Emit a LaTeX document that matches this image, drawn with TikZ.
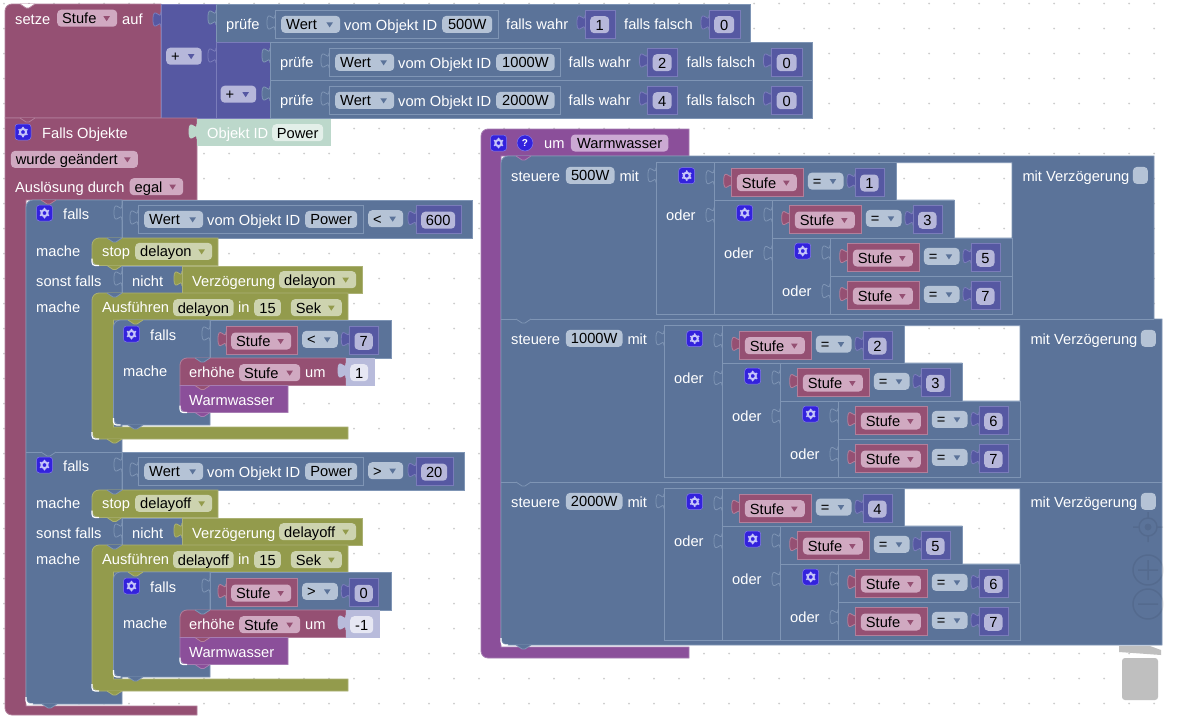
\documentclass[tikz,border=0pt]{standalone}
\usepackage{fontspec}
\setmainfont{Liberation Sans}
\usepackage{xcolor}

\definecolor{magfill}{HTML}{955073}
\definecolor{magedge}{HTML}{B27F9B}
\definecolor{magfield}{HTML}{D0A9C1}
\definecolor{bluefill}{HTML}{5B7399}
\definecolor{blueedge}{HTML}{7F95B5}
\definecolor{bluefield}{HTML}{B5C3D6}
\definecolor{numfill}{HTML}{5658A2}
\definecolor{numedge}{HTML}{7A7CBA}
\definecolor{numfield}{HTML}{B6B7DA}
\definecolor{olivefill}{HTML}{939B4C}
\definecolor{oliveedge}{HTML}{ABB174}
\definecolor{olivefield}{HTML}{CDD3AF}
\definecolor{purfill}{HTML}{8B4F9A}
\definecolor{puredge}{HTML}{A77DB3}
\definecolor{purfield}{HTML}{CBA9D3}
\definecolor{greenfill}{HTML}{BCD8CB}
\definecolor{greenfield}{HTML}{E3EFE9}
\definecolor{litefill}{HTML}{B8BBDB}
\definecolor{litefield}{HTML}{E6E7F3}
\definecolor{gearfill}{HTML}{3322DD}
\definecolor{gearfront}{HTML}{C5C5FA}

\newcommand{\blockfont}{\fontsize{14.67}{16}\selectfont}

\tikzset{
  lbl/.style={font=\blockfont, text=white, anchor=base west, inner sep=0pt},
  fieldbox/.style={font=\blockfont, text=black, anchor=north west, rounded corners=4pt,
    minimum height=17pt, inner xsep=0pt, inner ysep=0pt, text height=12.5pt, text depth=1.5pt},
  gearbox/.style={fill=gearfill, draw=gearfill!60!white, line width=0.5pt, rounded corners=3pt,
    minimum size=16pt, inner sep=0pt},
  checkbox/.style={fill=bluefield, anchor=north west, rounded corners=4pt,
    minimum width=15pt, minimum height=17pt, inner sep=0pt},
  magblock/.style={fill=magfill, draw=magedge, line width=0.8pt},
  blueblock/.style={fill=bluefill, draw=blueedge, line width=0.8pt},
  numblock/.style={fill=numfill, draw=numedge, line width=0.8pt},
  oliveblock/.style={fill=olivefill, draw=oliveedge, line width=0.8pt},
  purblock/.style={fill=purfill, draw=puredge, line width=0.8pt},
  greenblock/.style={fill=greenfill, draw=greenfill, line width=0.8pt},
  liteblock/.style={fill=litefill, draw=litefill, line width=0.8pt},
  ghost/.style={draw=black, opacity=0.07, line width=1.5pt},
}

\newcommand{\mktext}[4]{\node[lbl] (#1) at (#2,#3) {#4};}
\newcommand{\mkfield}[6]{\node[fieldbox, fill=#5, minimum width=#4pt] (#1) at (#2,#3) {#6};}
\newcommand{\mkdrop}[7]{%
  \node[fieldbox, fill=#5, inner xsep=5pt] (#1) at (#2,#3) {\makebox[\dimexpr#4pt-10pt\relax][l]{#7}};
  \fill[#6] ([shift={(-14,-2)}]#1.east) -- ++(6.5,0) -- ++(-3.25,5) -- cycle;
}
\newcommand{\mkgear}[3]{%
  \node[gearbox] (#1) at (#2,#3) {};
  \draw[gearfront, line width=2pt] (#1.center) circle (3.1);
  \foreach \ang in {30,90,...,330}
    \fill[gearfront] ([shift={(\ang:4.4)}]#1.center) circle (1.1);
}
\newcommand{\mktab}[3]{%
  \filldraw[#3] (#1,#2) .. controls (#1,#2+10) and (#1-8,#2-8) .. (#1-8,#2+7.5)
    .. controls (#1-8,#2+23) and (#1,#2+5) .. (#1,#2+15);
}
\newcommand{\mknub}[3]{\filldraw[#3] (#1,#2) -- (#1+6,#2+4) -- (#1+9,#2+4) -- (#1+15,#2);}
\newcommand{\glint}[2]{\draw[white, line width=1.2pt] (#1,#2-7) .. controls (#1,#2) .. (#1+7,#2);}
\newcommand{\leftround}[5]{\draw[#1] (#4,#3) [rounded corners=7pt] -- (#2,#3) -- (#2,#5) [sharp corners] -- (#4,#5) -- cycle;}

\newcommand{\numbox}[5]{%
  \mktab{#2}{#3+5}{numblock}
  \draw[numblock] (#2,#3) rectangle (#2+#5+11,#3+28);
  \mkfield{#1}{#2+5}{#3+6}{#5}{numfield}{#4}
}
\newcommand{\wertrow}[5]{%
  \mktab{#2}{#3+5}{blueblock}
  \draw[blueblock] (#2,#3) rectangle (#2+173+#5,#3+28);
  \mkdrop{#1-w}{#2+6}{#3+5.7}{59}{bluefield}{bluefill}{Wert}
  \mktext{#1-o}{#2+69}{#3+20}{vom Objekt ID}
  \mkfield{#1-i}{#2+167}{#3+5.7}{#5}{bluefield}{#4}
}
\newcommand{\pruefe}[7]{%
  \pgfmathsetmacro{\aft}{#2+225+#5}
  \draw[blueblock] (#2,#3) rectangle (\aft+259,#3+37.7);
  \mktext{#1-t}{#2+10}{#3+24.5}{prüfe}
  \wertrow{#1-v}{#2+59}{#3+5.5}{#4}{#5}
  \mktext{#1-a}{\aft+15}{#3+24.5}{falls wahr}
  \numbox{#1-b}{\aft+94}{#3+5.5}{#6}{19}
  \mktext{#1-c}{\aft+133}{#3+24.5}{falls falsch}
  \numbox{#1-d}{\aft+218}{#3+5.5}{#7}{20}
}
\newcommand{\cmprow}[5]{%
  \mktab{#2+17.7}{#3+10.6}{magblock}
  \draw[magblock] (#2+17.7,#3+5.6) rectangle (#2+89.3,#3+33.3);
  \mkdrop{#1-s}{#2+22.7}{#3+11.3}{60}{magfield}{magfill}{Stufe}
  \mkdrop{#1-o}{#2+93.7}{#3+9.7}{35.6}{bluefield}{bluefill}{#4}
  \numbox{#1-n}{#2+141}{#3+5.6}{#5}{18.3}
}
\newcommand{\oderbox}[5]{%
  \draw[blueblock] (#2,#3) rectangle (#2+58,#5);
  \mkgear{#1-g}{#2+30.7}{#3+13}
  \mktab{#2+58}{#3+7}{blueblock}
  \mktext{#1-t}{#2+10}{#4+20}{oder}
  \mktab{#2+58}{#4+7.5}{blueblock}
}
\newcommand{\steuere}[9]{%
  \mktext{#1-t}{511}{#2+25.5}{steuere}
  \mkfield{#1-w}{565.7}{#2+10.7}{#5}{bluefield}{#4}
  \mktext{#1-m}{565.7+#5+5}{#2+25.5}{mit}
  \mktab{656+#3}{#2+11.7}{blueblock}
  \oderbox{#1-a}{656+#3}{#2+6.7}{#2+44}{#2+158.3}
  \draw[blueblock] (714+#3,#2+6.7) rectangle (896+#3,#2+44);
  \cmprow{#1-ra}{714+#3}{#2+6.7}{=}{#6}
  \oderbox{#1-b}{714+#3}{#2+44}{#2+82}{#2+158.3}
  \draw[blueblock] (772+#3,#2+44) rectangle (954+#3,#2+82);
  \cmprow{#1-rb}{772+#3}{#2+44}{=}{#7}
  \oderbox{#1-c}{772+#3}{#2+82}{#2+120}{#2+158.3}
  \draw[blueblock] (830+#3,#2+82) rectangle (1012+#3,#2+120);
  \cmprow{#1-rc}{830+#3}{#2+82}{=}{#8}
  \draw[blueblock] (830+#3,#2+120) rectangle (1012+#3,#2+158.3);
  \cmprow{#1-rd}{830+#3}{#2+120}{=}{#9}
  \mktext{#1-v}{1022.3+#3}{#2+25.5}{mit Verzögerung}
  \node[checkbox] (#1-x) at (1132.7+#3,#2+10.7) {};
}
\newcommand{\holepath}[2]{(896+#1,#2+6.7) -- (1012+#1,#2+6.7) -- (1012+#1,#2+82) -- (954+#1,#2+82)
  -- (954+#1,#2+44) -- (896+#1,#2+44) -- cycle}
\newcommand{\fallsgroup}[8]{%
  \draw[blueblock] (122,200) rectangle (#4+438,238);
  \mkgear{#1-g}{44.5}{213}
  \mktext{#1-f}{63}{219}{falls}
  \mktab{122}{205}{blueblock}
  \wertrow{#1-v}{138}{205}{Power}{52}
  \mkdrop{#1-op}{368}{210}{35}{bluefield}{bluefill}{#2}
  \numbox{#1-num}{416}{205.5}{#3}{#4}
  \mktext{#1-m}{36}{256}{mache}
  \leftround{oliveblock}{92}{238}{218}{265.5}
  \mknub{107}{238}{blueblock}
  \mknub{107}{265.5}{oliveblock}
  \glint{92}{265.5}
  \mktext{#1-s}{102}{256.5}{stop}
  \mkdrop{#1-sd}{135}{242.7}{77}{olivefield}{olivefill}{#1}
  \mktext{#1-e}{36}{286}{sonst falls}
  \mktab{122}{271}{blueblock}
  \draw[blueblock] (122,266) rectangle (182,293);
  \mktext{#1-n}{132}{286}{nicht}
  \mktab{182}{271}{oliveblock}
  \draw[oliveblock] (182,266) rectangle (362,293);
  \mktext{#1-z}{192}{286}{Verzögerung}
  \mkdrop{#1-zd}{279}{271}{77}{olivefield}{olivefill}{#1}
  \mktext{#1-k}{36}{312}{mache}
  \draw[oliveblock] (348,293) [rounded corners=7pt] -- (92,293) -- (92,439) [sharp corners] -- (348,439)
    -- (348,427) -- (113.5,427) -- (113.5,320) -- (348,320) -- cycle;
  \mknub{107}{293}{blueblock}
  \mknub{107}{439}{oliveblock}
  \glint{92}{439}
  \mktext{#1-a}{102}{312.5}{Ausführen}
  \mkfield{#1-ad}{173}{299}{60.5}{olivefield}{#1}
  \mktext{#1-i}{238}{312.5}{in}
  \mkfield{#1-t}{254}{299}{26.7}{olivefield}{15}
  \mkdrop{#1-u}{290.7}{299}{51}{olivefield}{olivefill}{Sek}
  \leftround{blueblock}{113.5}{320}{210}{425}
  \mknub{128}{320}{oliveblock}
  \mknub{128}{425}{blueblock}
  \glint{113.5}{425}
  \mkgear{#1-h}{131.5}{334}
  \mktext{#1-j}{150}{340}{falls}
  \draw[blueblock] (210,320) rectangle (391,358.5);
  \mktab{210}{326}{blueblock}
  \cmprow{#1-c}{208.3}{321}{#5}{#6}
  \mktext{#1-l}{123}{376.7}{mache}
  \draw[magblock] (346,358) [rounded corners=7pt] -- (180,358) [sharp corners] -- (180,385.5) -- (346,385.5) -- cycle;
  \mknub{195}{358}{blueblock}
  \mktext{#1-q}{189}{377.5}{erhöhe}
  \mkdrop{#1-qd}{239}{364}{61}{magfield}{magfill}{Stufe}
  \mktext{#1-r}{305}{377.5}{um}
  \draw[liteblock] (346,358) rectangle (356+#8,385.5);
  \mktab{346}{363}{liteblock}
  \mkfield{#1-qv}{350}{364}{#8}{litefield}{#7}
  \draw[purblock] (288,385.5) -- (180,385.5) [rounded corners=7pt] -- (180,412.5) [sharp corners] -- (288,412.5) -- cycle;
  \mknub{195}{385.5}{magblock}
  \mknub{195}{412.5}{purblock}
  \glint{180}{412.5}
  \mktext{#1-w}{189}{405}{Warmwasser}
}

\begin{document}
\begin{tikzpicture}[x=1pt, y=-1pt]
  \useasboundingbox (0,0) rectangle (1180,715);
  \fill[white] (0,0) rectangle (1180,715);
  % workspace dots
  \fill[black!20] \foreach \i in {0,...,46} {\foreach \j in {0,...,28} {(4+25*\i,3.5+25*\j) circle (1)}};

  % setze Stufe
  \draw[magblock] (161,4) [rounded corners=7pt] -- (5,4) [sharp corners] -- (5,118) -- (161,118) -- cycle;
  \filldraw[fill=white, draw=magedge, line width=0.8pt] (20,4) -- (26,8) -- (29,8) -- (35,4);
  \mktext{setze}{15}{24}{setze}
  \mkdrop{stufe}{57}{9.5}{60}{magfield}{magfill}{Stufe}
  \mktext{auf}{122}{24}{auf}
  \mktab{161}{12}{numblock}
  \draw[numblock] (161,4) rectangle (216,118);
  \mkdrop{plusa}{166}{47.5}{35.5}{numfield}{numfill}{+}
  \mktab{216}{10}{blueblock}
  \pruefe{pa}{216}{4.5}{500W}{50}{1}{0}
  \mktab{216}{48}{numblock}
  \draw[numblock] (216,42.5) rectangle (270,118);
  \mkdrop{plusb}{220.5}{85.5}{35.5}{numfield}{numfill}{+}
  \mktab{270}{48}{blueblock}
  \pruefe{pb}{270}{42.5}{1000W}{58.5}{2}{0}
  \mktab{270}{86}{blueblock}
  \pruefe{pc}{270}{80.5}{2000W}{58.5}{4}{0}

  % Falls Objekte
  \draw[magblock] (197,118) -- (5,118) [rounded corners=7pt] -- (5,715) [sharp corners] -- (197,715)
    -- (197,706) -- (26,706) -- (26,200) -- (197,200) -- cycle;
  \mknub{20}{118}{magblock}
  \mkgear{gear}{23}{132}
  \mktext{falls}{42}{138}{Falls Objekte}
  \mkdrop{changed}{10.7}{150.7}{127}{magfield}{magfill}{wurde geändert}
  \mktext{ausl}{15}{192}{Auslösung durch}
  \mkdrop{egal}{129.5}{178}{53.5}{magfield}{magfill}{egal}
  \draw[greenblock] (197,119) rectangle (330,145);
  \mktab{197}{124}{greenblock}
  \mktext{objid}{207}{138}{Objekt ID}
  \mkfield{power}{272}{124}{51}{greenfield}{Power}

  % falls columns
  \draw[blueblock] (122,200) [rounded corners=7pt] -- (26,200) -- (26,704) [sharp corners] -- (122,704) -- cycle;
  \mknub{42}{704}{blueblock}
  \glint{26}{704}
  \mknub{41}{200}{magblock}
  \fallsgroup{delayon}{<}{600}{34}{<}{7}{1}{18}
  \draw[blueedge, line width=0.8pt] (26,452) -- (122,452);
  \begin{scope}[shift={(0,252)}]
    \fallsgroup{delayoff}{>}{20}{26}{>}{0}{-1}{23}
  \end{scope}
  \mknub{41}{452}{blueblock}

  % Warmwasser
  \draw[purblock] (689,129) [rounded corners=7pt] -- (481,129) -- (481,658) [sharp corners] -- (689,658)
    -- (689,647) -- (501,647) -- (501,156) -- (689,156) -- cycle;
  \mkgear{gearw}{498.5}{143}
  \node[circle, fill=gearfill, draw=gearfill!60!white, line width=0.5pt, minimum size=16pt, inner sep=0pt,
    text=white, font=\fontsize{10}{10}\selectfont\bfseries] (help) at (525,143) {?};
  \mktext{um}{544}{148.5}{um}
  \mkfield{wname}{570.7}{134.3}{97.5}{purfield}{Warmwasser}
  \draw[blueblock, even odd rule] (1154,156) [rounded corners=7pt] -- (501,156) -- (501,645) [sharp corners] -- (1162,645)
    -- (1162,319) -- (1154,319) -- cycle \holepath{0}{156} \holepath{8}{319} \holepath{8}{482};
  \draw[blueedge, line width=0.8pt] (501,319) -- (1154,319) (501,482) -- (1162,482);
  \mknub{516}{156}{purblock}
  \mknub{516}{319}{blueblock}
  \mknub{516}{482}{blueblock}
  \mknub{516}{645}{blueblock}
  \glint{501}{645}
  \steuere{sa}{156}{0}{500W}{48.6}{1}{3}{5}{7}
  \steuere{sb}{319}{8}{1000W}{56.6}{2}{3}{6}{7}
  \steuere{sc}{482}{8}{2000W}{56.6}{4}{5}{6}{7}

  % zoom controls and bin
  \draw[ghost] (1148,527) circle (9) (1148,512) -- (1148,518) (1148,536) -- (1148,542) (1133,527) -- (1139,527) (1157,527) -- (1163,527);
  \fill[black, opacity=0.07] (1148,527) circle (3.5);
  \draw[ghost] (1148,570) circle (15) (1138,570) -- (1158,570) (1148,560) -- (1148,580);
  \draw[ghost] (1148,604) circle (15) (1138,604) -- (1158,604);
  \fill[black!25] (1119,646) -- (1150,646) -- (1161,650) -- (1161,655) -- (1119,652) -- cycle;
  \fill[black!25, rounded corners=3pt] (1122,658) -- (1158,658) -- (1158,700) -- (1122,700) -- cycle;
\end{tikzpicture}
\end{document}
